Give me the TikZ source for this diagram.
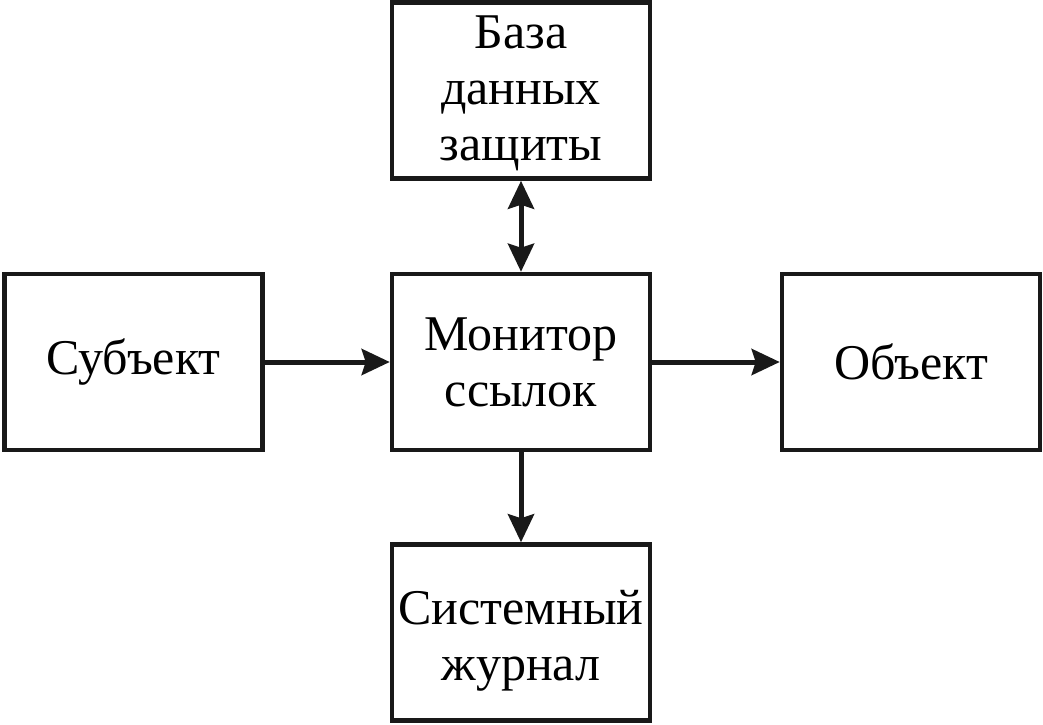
\documentclass[tikz,border=0pt]{standalone}
\usepackage{fontspec}
\setmainfont{Liberation Serif}
\usetikzlibrary{arrows.meta}

\begin{document}
\begin{tikzpicture}[x=1pt,y=-1pt,
    box/.style={draw=black!90, line width=4.5pt, minimum width=258pt, minimum height=176pt,
        inner sep=0pt, align=center, font=\fontsize{50}{56}\selectfont},
    txt/.style={inner sep=0pt, align=center, font=\fontsize{50}{56}\selectfont},
    link/.style={draw=black!90, line width=5pt, -{Stealth[length=28pt,width=26pt,inset=4pt]}},
    both/.style={draw=black!90, line width=5pt, {Stealth[length=28pt,width=26pt,inset=4pt]}-{Stealth[length=28pt,width=26pt,inset=4pt]}}]
    \useasboundingbox (0,0) rectangle (1043,724);
    \node[box, label={[txt,yshift=-3pt]center:{База\\данных\\защиты}}] (bdz) at (521,90.5) {};
    \node[box] (subj) at (133.5,362) {Субъект};
    \node[box] (mon) at (521,362) {Монитор\\ссылок};
    \node[box] (obj) at (911,362) {Объект};
    \node[box, label={[txt,yshift=-8pt]center:{Системный\\журнал}}] (jrn) at (521,632.5) {};
    \draw[both] (bdz) -- (mon);
    \draw[link] (subj) -- (mon);
    \draw[link] (mon) -- (obj);
    \draw[link] (mon) -- (jrn);
\end{tikzpicture}
\end{document}
